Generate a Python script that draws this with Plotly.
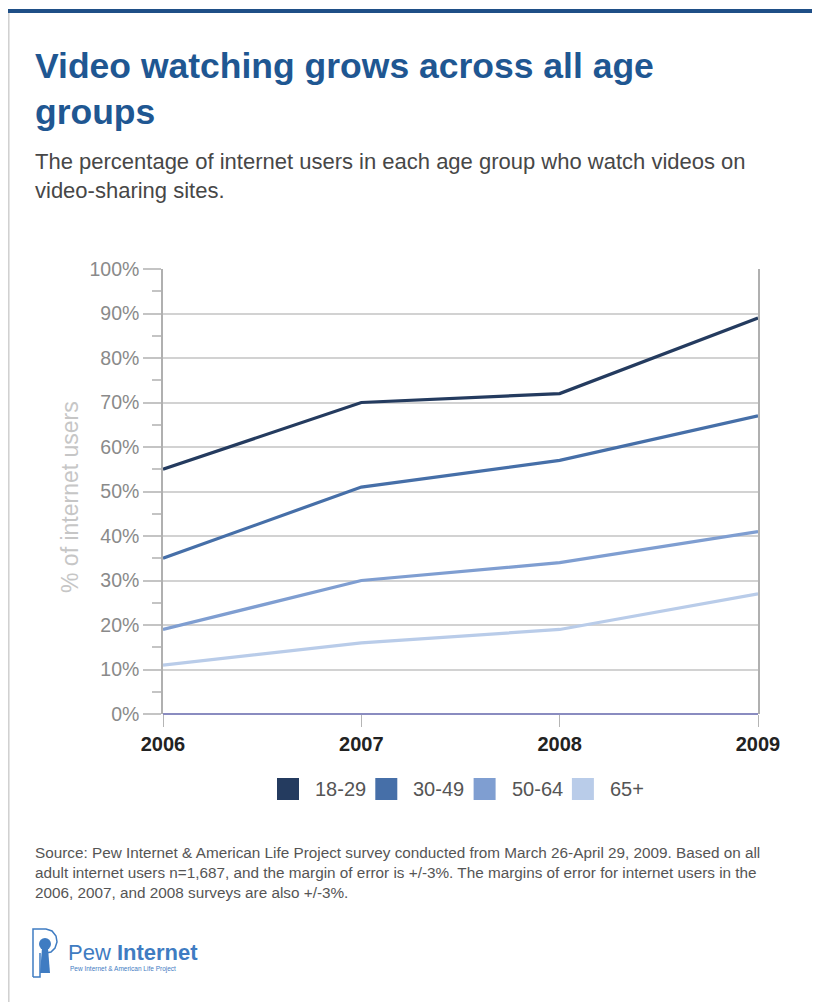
import plotly.graph_objects as go

# ---- data ----
years = [2006, 2007, 2008, 2009]
groups = ["18-29", "30-49", "50-64", "65+"]
v_18_29 = [55, 70, 72, 89]
v_30_49 = [35, 51, 57, 67]
v_50_64 = [19, 30, 34, 41]
v_65_plus = [11, 16, 19, 27]
series = [v_18_29, v_30_49, v_50_64, v_65_plus]
colors = ["#243b5f", "#466fa8", "#7f9ed1", "#b9cce9"]
y_ticks = list(range(0, 101, 10))
y_tick_labels = [f"{t}%" for t in y_ticks]
y_minor = list(range(5, 100, 10))

title_text = "<b>Video watching grows across all age<br>groups</b>"
subtitle_text = ("The percentage of internet users in each age group who watch videos on<br>"
                 "video-sharing sites.")
source_text = ("Source: Pew Internet &amp; American Life Project survey conducted from March 26-April 29, 2009. Based on all<br>"
               "adult internet users n=1,687, and the margin of error is +/-3%. The margins of error for internet users in the<br>"
               "2006, 2007, and 2008 surveys are also +/-3%.")
y_title = "% of internet users"

# ---- layout geometry (page pixels; page body has an 8px margin) ----
OFF = 8
W, H = 820 - OFF, 1002 - OFF
L, R, T, B = 163, 758, 269, 714  # plot area in page pixels


def px(x):
    return (x - L) / (R - L)


def py(y):
    return (B - y) / (B - T)


SANS = "Liberation Sans, Arial, sans-serif"

fig = go.Figure()
for name, vals, c in zip(groups, series, colors):
    fig.add_trace(go.Scatter(x=years, y=vals, mode="lines", name=name,
                             line=dict(color=c, width=3.2), showlegend=False,
                             hoverinfo="x+y+name"))

fig.update_layout(
    width=W, height=H,
    margin=dict(l=L - OFF, r=(W + OFF) - R, t=T - OFF, b=(H + OFF) - B, pad=0),
    paper_bgcolor="white", plot_bgcolor="white",
    showlegend=False,
)

fig.update_xaxes(
    range=[2006, 2009], tickvals=years, ticktext=[str(y) for y in years],
    showgrid=False, zeroline=False, showline=False,
    ticks="outside", ticklen=12, tickcolor="#b5b5b5", tickwidth=1,
    tickfont=dict(family=SANS, size=20, color="#222222", weight="bold"),
)
fig.update_yaxes(
    range=[0, 100], tickvals=y_ticks, ticktext=y_tick_labels,
    showgrid=True, gridcolor="#d2d2d2", gridwidth=1.5,
    ticks="outside", ticklen=18, tickcolor="#c4c4c4", tickwidth=1.5,
    minor=dict(tickvals=y_minor, ticks="outside", ticklen=9,
               tickcolor="#c4c4c4", tickwidth=1.5, showgrid=False),
    showline=True, linecolor="#b0b0b0", linewidth=1.5, mirror=True,
    zeroline=True, zerolinecolor="#8a8cc0", zerolinewidth=2,
    tickfont=dict(family=SANS, size=19.5, color="#8a8a8a"),
)

ann = []
shapes = []

# page decorations: top bar and left border
shapes.append(dict(type="rect", xref="paper", yref="paper",
                   x0=px(OFF), x1=px(830), y0=py(13), y1=py(9),
                   fillcolor="#1f4f87", line=dict(width=0), layer="above"))
shapes.append(dict(type="line", xref="paper", yref="paper",
                   x0=px(OFF + 0.8), x1=px(OFF + 0.8), y0=py(13), y1=py(1010),
                   line=dict(color="#cfcfcf", width=1.5)))

# title
ann.append(dict(text=title_text, x=px(33), y=py(44), xref="paper", yref="paper",
                xanchor="left", yanchor="top", align="left", showarrow=False,
                font=dict(family=SANS, size=35.5, color="#1f5792")))
# subtitle
ann.append(dict(text=subtitle_text, x=px(33), y=py(147), xref="paper", yref="paper",
                xanchor="left", yanchor="top", align="left", showarrow=False,
                font=dict(family=SANS, size=22, color="#474747")))
# y axis title
ann.append(dict(text=y_title, x=px(70), y=py(497), xref="paper", yref="paper",
                xanchor="center", yanchor="middle", textangle=-90, showarrow=False,
                font=dict(family=SANS, size=23, color="#c6c6c6")))

# legend (swatches + labels)
leg_x0 = 277
leg_step = 98.3
for i, (name, c) in enumerate(zip(groups, colors)):
    sx = leg_x0 + i * leg_step
    shapes.append(dict(type="rect", xref="paper", yref="paper",
                       x0=px(sx), x1=px(sx + 22), y0=py(800), y1=py(778),
                       fillcolor=c, line=dict(width=0)))
    ann.append(dict(text=name, x=px(sx + 36), y=py(789), xref="paper", yref="paper",
                    xanchor="left", yanchor="middle", showarrow=False,
                    font=dict(family=SANS, size=20, color="#555555")))

# source note
ann.append(dict(text=source_text, x=px(33), y=py(842), xref="paper", yref="paper",
                xanchor="left", yanchor="top", align="left", showarrow=False,
                font=dict(family=SANS, size=15.3, color="#555555")))

# logo
logo_blue = "#3f7cc2"
ann.append(dict(text="Pew <b>Internet</b>", x=px(66), y=py(952), xref="paper", yref="paper",
                xanchor="left", yanchor="middle", showarrow=False,
                font=dict(family=SANS, size=22, color=logo_blue)))
ann.append(dict(text="Pew Internet &amp; American Life Project", x=px(68), y=py(969),
                xref="paper", yref="paper", xanchor="left", yanchor="middle",
                showarrow=False, font=dict(family=SANS, size=6.5, color=logo_blue)))


def pth(points, close=False):
    s = "M " + " L ".join(f"{px(a):.5f},{py(b):.5f}" for a, b in points)
    return s + (" Z" if close else "")


# icon outline (P shape)
shapes.append(dict(type="path", xref="paper", yref="paper",
                   path=pth([(33, 977), (33, 929), (46, 929), (52, 931), (56, 936),
                             (57, 942), (55, 948), (51, 952), (46, 953)]),
                   line=dict(color=logo_blue, width=1.5)))
shapes.append(dict(type="path", xref="paper", yref="paper",
                   path=pth([(33, 977), (40, 977), (40, 953)]),
                   line=dict(color=logo_blue, width=1.5)))
# keyhole figure
shapes.append(dict(type="circle", xref="paper", yref="paper",
                   x0=px(39), x1=px(51), y0=py(950), y1=py(938),
                   fillcolor=logo_blue, line=dict(width=0)))
shapes.append(dict(type="path", xref="paper", yref="paper",
                   path=pth([(42, 948), (40, 973), (50, 973), (48, 948)], close=True),
                   fillcolor=logo_blue, line=dict(width=0)))

fig.update_layout(annotations=ann, shapes=shapes)
fig.write_html("out.html")
